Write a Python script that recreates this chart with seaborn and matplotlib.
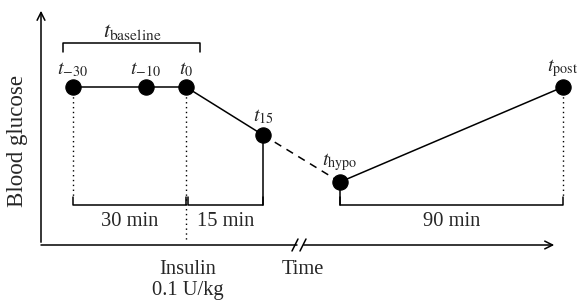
import numpy as np
import pandas as pd
import matplotlib.pyplot as plt
import seaborn as sns

# schematic time positions (axis units) and glucose levels of the sampling points
point_names = ["t-30", "t-10", "t0", "t15", "thypo", "tpost"]
point_labels = [r"$t_{-30}$", r"$t_{-10}$", r"$t_{0}$", r"$t_{15}$",
                r"$t_{\mathrm{hypo}}$", r"$t_{\mathrm{post}}$"]
time_pos = [32, 105, 145, 222, 299, 522]
glucose = [158, 158, 158, 110, 63, 158]

interval_labels = ["30 min", "15 min", "90 min"]
interval_start = [32, 147, 299]
interval_end = [145, 222, 522]

sns.set_theme(style="white")
plt.rcParams["font.family"] = ["Liberation Serif", "DejaVu Serif"]
plt.rcParams["mathtext.fontset"] = "stix"

df = pd.DataFrame({"name": point_names, "time": time_pos, "glucose": glucose})

fig = plt.figure(figsize=(5.8, 3.04), dpi=100)
ax = fig.add_axes([0, 0, 1, 1])

lw = 1.1
fs = 14.8

# axes with arrows and a break on the time axis
ax.annotate("", xy=(0, 237), xytext=(0, 0),
            arrowprops=dict(arrowstyle="->", lw=lw, color="black", mutation_scale=14))
ax.plot([0, 256], [0, 0], color="black", lw=lw)
ax.annotate("", xy=(516, 0), xytext=(260, 0),
            arrowprops=dict(arrowstyle="->", lw=lw, color="black", mutation_scale=14))
for bx in [254, 262]:
    ax.plot([bx - 3, bx + 3], [-6, 6], color="black", lw=lw)

# glucose curve: solid baseline + insulin fall, dashed to hypo, solid recovery
sns.lineplot(data=df.iloc[0:4], x="time", y="glucose", sort=False, color="black",
             lw=lw, ax=ax, estimator=None)
sns.lineplot(data=df.iloc[3:5], x="time", y="glucose", sort=False, color="black",
             lw=lw, ax=ax, estimator=None, linestyle=(0, (5, 4)))
sns.lineplot(data=df.iloc[4:6], x="time", y="glucose", sort=False, color="black",
             lw=lw, ax=ax, estimator=None)

# dotted guide lines
dot = (0, (1, 2.5))
ax.plot([time_pos[0]] * 2, [glucose[0], 48], color="black", lw=1, linestyle=dot)
ax.plot([time_pos[2]] * 2, [glucose[2], 4], color="black", lw=1, linestyle=dot)
ax.plot([time_pos[5]] * 2, [glucose[5], 48], color="black", lw=1, linestyle=dot)
# solid drops from t15 and thypo
ax.plot([time_pos[3]] * 2, [glucose[3], 40], color="black", lw=lw)
ax.plot([time_pos[4]] * 2, [glucose[4], 40], color="black", lw=lw)

# interval brackets
for lab, x0, x1 in zip(interval_labels, interval_start, interval_end):
    ax.plot([x0, x0, x1, x1], [48, 40, 40, 48], color="black", lw=lw)
    ax.text((x0 + x1) / 2, 23, lab, ha="center", va="center", fontsize=fs)

# baseline bracket
ax.plot([22, 22, 159, 159], [193, 202, 202, 193], color="black", lw=lw)
ax.text(91, 213, r"$t_{\mathrm{baseline}}$", ha="center", va="center", fontsize=16)

sns.scatterplot(data=df, x="time", y="glucose", color="black", s=120,
                edgecolor="black", ax=ax, zorder=5, clip_on=False)

label_offsets = [17, 17, 17, 18, 20, 19]
for lab, x, y, off in zip(point_labels, time_pos, glucose, label_offsets):
    ax.text(x, y + off, lab, ha="center", va="center", fontsize=14.5)

ax.text(147, -35, "Insulin\n0.1 U/kg", ha="center", va="center", fontsize=fs,
        linespacing=1.1)
ax.text(262, -25, "Time", ha="center", va="center", fontsize=fs)
ax.text(-23, 104, "Blood glucose", ha="center", va="center", rotation=90, fontsize=16.5)

ax.set_xlim(-41, 539)
ax.set_ylim(-59, 245)
ax.axis("off")

fig.savefig("out.png", dpi=100)
